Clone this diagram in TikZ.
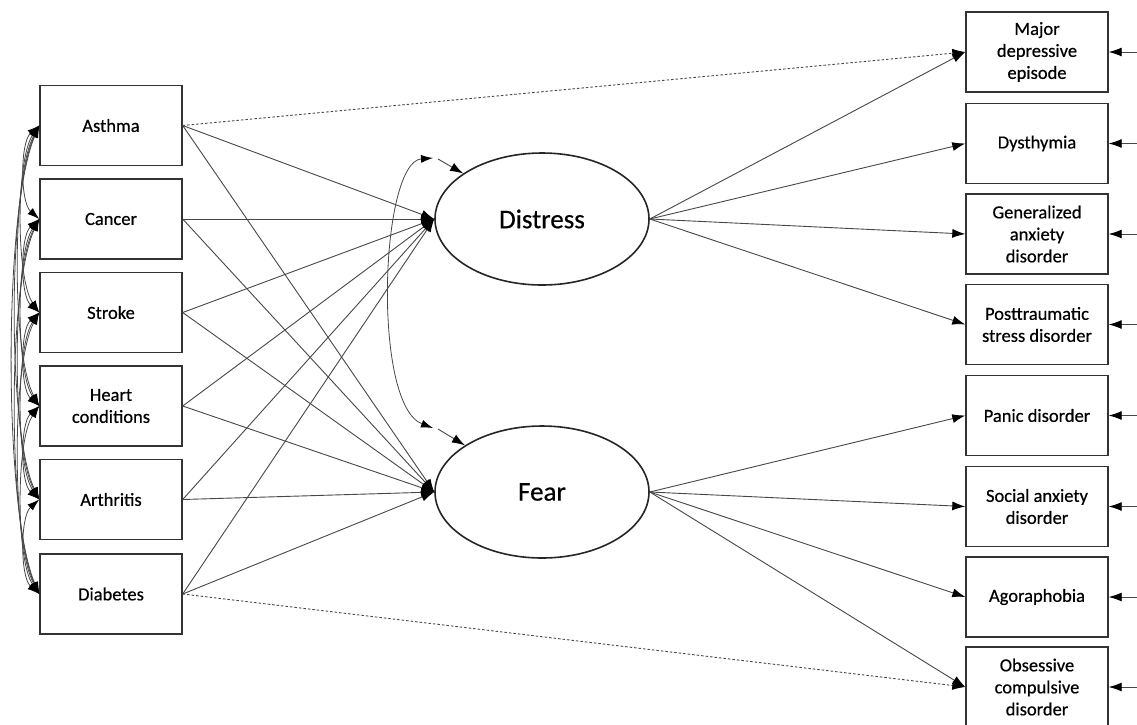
\documentclass[tikz,border=0pt]{standalone}
\usepackage{fontspec}
\setmainfont{Carlito}[FakeBold=0.5]
\usetikzlibrary{arrows.meta,shapes.geometric}
\tikzset{
  obs/.style={draw=black!80, line width=1.4pt, minimum width=142pt, minimum height=80pt, inner sep=2pt, align=center, font=\fontsize{18.5}{22}\selectfont},
  lat/.style={draw=black!85, line width=1.6pt, ellipse, minimum width=214pt, minimum height=132pt, inner sep=0pt, font=\fontsize{27}{30}\selectfont},
  path/.style={draw=black!72, line width=0.9pt, -{Latex[length=13pt,width=9pt,fill=black,color=black]}},
  cov/.style={draw=black!72, line width=0.8pt, {Latex[length=12pt,width=8pt,color=black]}-{Latex[length=12pt,width=8pt,color=black]}},
  dotpath/.style={path, dash pattern=on 2.5pt off 2pt},
}
\begin{document}
\begin{tikzpicture}[x=1pt,y=-1pt]
\useasboundingbox (0,0) rectangle (1137,724);
\clip (0,0) rectangle (1137,724);
% left observed
\node[obs] (a1) at (111,125.5) {Asthma};
\node[obs] (a2) at (111,219) {Cancer};
\node[obs] (a3) at (111,312.5) {Stroke};
\node[obs] (a4) at (111,406) {Heart\\conditions};
\node[obs] (a5) at (111,499.5) {Arthritis};
\node[obs] (a6) at (111,594) {Diabetes};
% latent
\node[lat] (dis) at (542,219) {Distress};
\node[lat] (fear) at (542,492) {Fear};
% right observed
\node[obs] (o1) at (1037,52) {Major\\depressive\\episode};
\node[obs] (o2) at (1037,143.5) {Dysthymia};
\node[obs] (o3) at (1037,234) {Generalized\\anxiety\\disorder};
\node[obs] (o4) at (1037,324.5) {Posttraumatic\\stress disorder};
\node[obs] (o5) at (1037,415.5) {Panic disorder};
\node[obs] (o6) at (1037,506.5) {Social anxiety\\disorder};
\node[obs] (o7) at (1037,597) {Agoraphobia};
\node[obs] (o8) at (1037,687) {Obsessive\\compulsive\\disorder};
% error terms
\foreach \i/\y in {1/52,2/143.5,3/234,4/324.5,5/415.5,6/506.5,7/597,8/687}{
  \coordinate (e\i) at (1140,\y);
  \draw[path] (e\i) -- (o\i.east);
}
% covariances among left
\foreach \i in {1,...,5}{
  \pgfmathtruncatemacro{\s}{\i+1}
  \foreach \j in {\s,...,6}{
    \pgfmathsetmacro{\g}{93.7*(\j-\i)}
    \pgfmathsetmacro{\w}{15+0.045*\g}
    \pgfmathsetmacro{\v}{0.18*\g}
    \draw[cov] (a\i.west) .. controls +(-\w,\v) and +(-\w,-\v) .. (a\j.west);
  }
}
% regressions
\foreach \i in {1,...,6}{
  \draw[path] (a\i.east) -- (dis.west);
  \draw[path] (a\i.east) -- (fear.west);
}
\draw[dotpath] (a1.east) -- (o1.west);
\draw[dotpath] (a6.east) -- (o8.west);
% loadings
\foreach \i in {1,...,4}{\draw[path] (dis.east) -- (o\i.west);}
\foreach \i in {5,...,8}{\draw[path] (fear.east) -- (o\i.west);}
% latent covariance
\coordinate (c1) at (433,158);
\coordinate (c2) at (433,428);
\draw[cov] (c1) .. controls (380,162) and (372,405) .. (c2);
\coordinate (d1) at (438,159);
\coordinate (d2) at (438,429);
\draw[path] (d1) -- (dis);
\draw[path] (d2) -- (fear);
\end{tikzpicture}
\end{document}
